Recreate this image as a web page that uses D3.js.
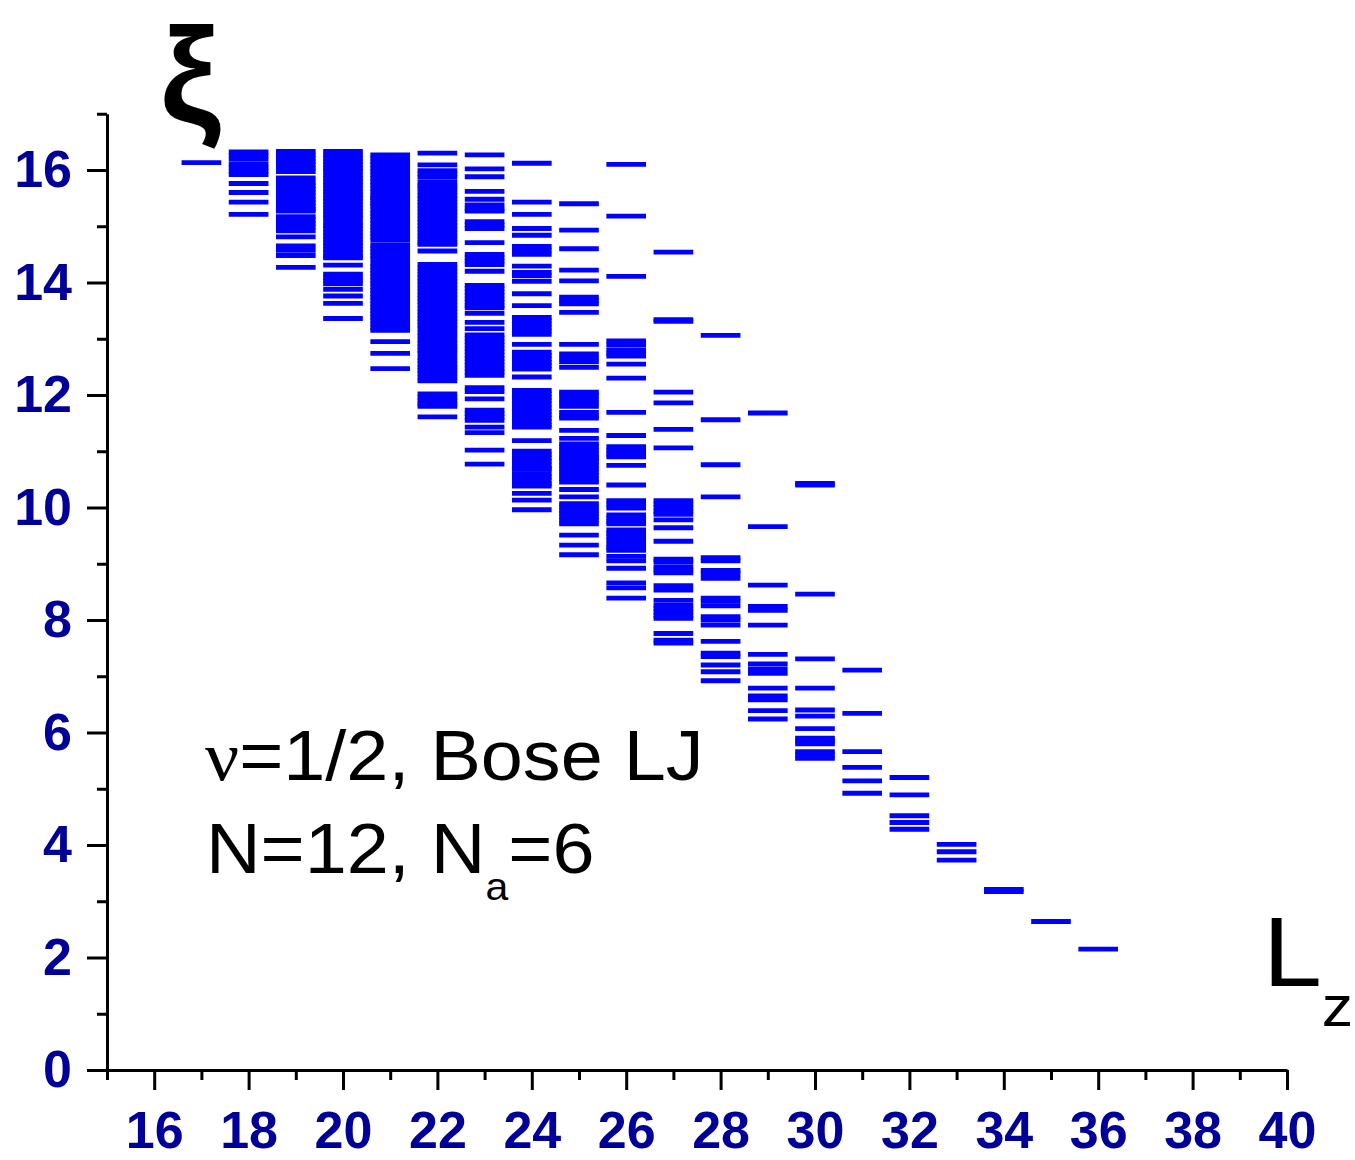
<!DOCTYPE html>
<html>
<head>
<meta charset="utf-8">
<script src="https://cdn.jsdelivr.net/npm/d3@7"></script>
<style>
body { margin: 0; background: #fff; }
svg text { font-family: "Liberation Sans", Arial, sans-serif; }
</style>
</head>
<body>
<div id="container"></div>
<script>
// entanglement levels xi for each Lz sector
const xi17 = [16.13];
const xi18 = [16.32, 16.26, 16.19, 16.10, 16.04, 15.98, 15.92, 15.76, 15.60, 15.43, 15.21];
const xi19 = [16.33, 16.27, 16.21, 16.15, 16.09, 16.03, 15.97, 15.86,
    15.78, 15.72, 15.66, 15.60, 15.54, 15.48, 15.42, 15.36, 15.30, 15.27,
    15.17, 15.11, 15.05, 14.99, 14.92, 14.81, 14.65, 14.57, 14.48, 14.27];
const xi20 = [16.33, 16.27, 16.21, 16.15, 16.09, 16.03, 15.98,
    15.91, 15.85, 15.79, 15.73, 15.67, 15.61,
    15.56, 15.50, 15.44, 15.38, 15.32, 15.26, 15.20, 15.15,
    15.07, 15.01, 14.96,
    14.89, 14.83, 14.77, 14.71, 14.65, 14.59, 14.53, 14.47, 14.44,
    14.31, 14.15, 14.09, 14.03, 13.98, 13.88, 13.76, 13.63, 13.36];
const xi21 = [16.27, 16.21, 16.15, 16.09, 16.03, 15.97, 15.91, 15.85, 15.79, 15.73, 15.67, 15.61, 15.55, 15.51,
    15.46, 15.40, 15.36,
    15.29, 15.23, 15.17, 15.11, 15.05, 14.99, 14.93, 14.87, 14.81, 14.75,
    14.66, 14.60, 14.54, 14.48, 14.42,
    14.34, 14.28, 14.22,
    14.16, 14.10, 14.04, 13.98, 13.92, 13.86, 13.80, 13.74, 13.68, 13.62, 13.56, 13.50,
    13.44, 13.38, 13.32, 13.26, 13.20, 13.15,
    12.95, 12.74, 12.47];
const xi22 = [16.30, 16.09, 15.99, 15.93, 15.87, 15.78, 15.72, 15.68,
    15.61, 15.55, 15.49, 15.43, 15.37, 15.31, 15.25, 15.19, 15.13,
    15.07, 15.01, 14.95, 14.89, 14.83, 14.77, 14.71, 14.68, 14.56,
    14.32, 14.26, 14.20, 14.14, 14.08, 14.02, 13.96, 13.90, 13.84, 13.78,
    13.72, 13.66, 13.60, 13.54, 13.48, 13.42, 13.36, 13.30, 13.24, 13.18,
    13.11, 13.05, 12.98, 12.92, 12.86, 12.80, 12.75,
    12.67, 12.61, 12.55, 12.49, 12.44, 12.38, 12.31, 12.25,
    12.02, 11.96, 11.90, 11.84, 11.80, 11.61];
const xi23 = [16.27, 16.02, 15.88, 15.62, 15.48, 15.38, 15.31, 15.27, 15.08, 15.02, 14.96,
    14.71, 14.50, 14.44, 14.38, 14.32, 14.20,
    13.95, 13.89, 13.83, 13.77, 13.71, 13.65, 13.59, 13.55, 13.45, 13.29, 13.18,
    13.07, 13.01, 12.95, 12.89, 12.83, 12.77, 12.71, 12.65, 12.59, 12.53, 12.47, 12.41, 12.35,
    12.13, 12.06, 11.93, 11.73, 11.67, 11.61, 11.55, 11.43, 11.33, 11.02, 10.77];
const xi24 = [16.12, 15.43, 15.21, 14.96, 14.84, 14.64, 14.57, 14.50, 14.29, 14.18, 14.12, 14.02, 13.80, 13.59,
    13.38, 13.32, 13.26, 13.20, 13.14, 13.08, 12.90,
    12.76, 12.70, 12.64, 12.58, 12.52, 12.46, 12.32,
    12.08, 12.02, 11.96, 11.90, 11.84, 11.77, 11.71, 11.65, 11.59, 11.53, 11.47, 11.43, 11.19,
    11.00, 10.94, 10.88, 10.82, 10.76, 10.70, 10.68,
    10.60, 10.54, 10.48, 10.42, 10.38, 10.25, 10.13, 9.96];
const xi25 = [15.40, 14.93, 14.60, 14.22, 14.03, 13.74, 13.68, 13.62, 13.47,
    12.90, 12.73, 12.66, 12.59, 12.49, 12.05, 12.00, 11.92, 11.86, 11.80,
    11.69, 11.63, 11.59, 11.37, 11.23, 11.13, 11.08, 11.02, 10.96, 10.90, 10.87,
    10.81, 10.75, 10.69, 10.63, 10.57, 10.51, 10.45, 10.32, 10.19,
    10.07, 10.01, 9.95, 9.89, 9.83, 9.77, 9.71, 9.51, 9.33, 9.16];
const xi26 = [16.10, 15.18, 14.11, 12.96, 12.89, 12.80, 12.74, 12.69, 12.55, 12.30,
    11.69, 11.28, 11.08, 11.01, 10.95, 10.90, 10.75, 10.40,
    10.12, 10.05, 9.99, 9.87, 9.81, 9.75, 9.71, 9.60, 9.54, 9.48, 9.42,
    9.35, 9.29, 9.24, 9.13, 9.05, 8.92, 8.66, 8.57, 8.39];
const xi27 = [14.54, 13.34, 13.31, 12.05, 11.86, 11.39, 11.06,
    10.12, 10.06, 10.00, 9.93, 9.88, 9.78, 9.64, 9.40, 9.08, 9.04, 8.95, 8.89, 8.84,
    8.61, 8.53, 8.35, 8.26, 8.20, 8.14, 8.08, 8.03, 7.76, 7.64, 7.59];
const xi28 = [13.06, 11.56, 10.76, 10.19, 9.11, 9.05, 8.88, 8.82, 8.74, 8.39, 8.33, 8.25,
    8.06, 8.00, 7.91, 7.62, 7.41, 7.35, 7.20, 7.08, 6.92];
const xi29 = [11.68, 9.66, 8.62, 8.24, 8.17, 7.91, 7.39, 7.22, 7.13, 7.05, 6.79, 6.65, 6.58, 6.39, 6.24];
const xi30 = [10.43, 10.40, 8.46, 7.31, 6.79, 6.40, 6.29, 6.07, 5.90, 5.85, 5.80, 5.66, 5.60, 5.54];
const xi31 = [7.11, 6.34, 5.66, 5.38, 5.14, 4.92];
const xi32 = [5.20, 4.89, 4.52, 4.40, 4.28];
const xi33 = [4.01, 3.88, 3.73];
const xi34 = [3.21, 3.17];
const xi35 = [2.64];
const xi36 = [2.15];

const lzSectors = [17, 18, 19, 20, 21, 22, 23, 24, 25, 26, 27, 28, 29, 30, 31, 32, 33, 34, 35, 36];
const xiBySector = [xi17, xi18, xi19, xi20, xi21, xi22, xi23, xi24, xi25, xi26,
    xi27, xi28, xi29, xi30, xi31, xi32, xi33, xi34, xi35, xi36];

const lzMajor = [16, 18, 20, 22, 24, 26, 28, 30, 32, 34, 36, 38, 40];
const lzMinor = [15, 17, 19, 21, 23, 25, 27, 29, 31, 33, 35, 37, 39];
const xiMajor = [0, 2, 4, 6, 8, 10, 12, 14, 16];
const xiMinor = [1, 3, 5, 7, 9, 11, 13, 15, 17];

document.addEventListener("DOMContentLoaded", () => {
    const w = 1355; // canvas width
    const h = 1160; // canvas height
    const half = 0.42; // half length of a level bar, in Lz units
    const labelColor = "#000099";

    const svg = d3.select("#container").append("svg").attr("width", w).attr("height", h);

    const xScale = d3.scaleLinear().domain([15, 40]).range([107, 1287]);
    const yScale = d3.scaleLinear().domain([0, 17]).range([1070, 113.75]);

    let levels = [];
    lzSectors.forEach((lz, i) => {
        xiBySector[i].forEach((v) => levels.push({ lz: lz, xi: v }));
    });

    svg.append("g").selectAll("line").data(levels).enter().append("line")
        .attr("x1", (d) => xScale(d.lz - half)).attr("x2", (d) => xScale(d.lz + half))
        .attr("y1", (d) => yScale(d.xi)).attr("y2", (d) => yScale(d.xi))
        .attr("stroke", "#0000ff").attr("stroke-width", 4.8);

    // x axis, major and minor ticks
    const xAxis = d3.axisBottom(xScale).tickValues(lzMajor).tickSize(20).tickSizeOuter(0).tickPadding(21).tickFormat(d3.format("d"));
    const gx = svg.append("g").attr("transform", `translate(0, ${yScale(0)})`).call(xAxis);
    const xMinor = d3.axisBottom(xScale).tickValues(lzMinor).tickSize(10).tickSizeOuter(0).tickFormat("");
    const gx2 = svg.append("g").attr("transform", `translate(0, ${yScale(0)})`).call(xMinor);
    gx2.select(".domain").remove();

    // y axis
    const yAxis = d3.axisLeft(yScale).tickValues(xiMajor).tickSize(20).tickSizeOuter(0).tickPadding(15).tickFormat(d3.format("d"));
    const gy = svg.append("g").attr("transform", `translate(${xScale(15)}, 0)`).call(yAxis);
    const yMinor = d3.axisLeft(yScale).tickValues(xiMinor).tickSize(10).tickSizeOuter(0).tickFormat("");
    const gy2 = svg.append("g").attr("transform", `translate(${xScale(15)}, 0)`).call(yMinor);
    gy2.select(".domain").remove();

    [gx, gx2, gy, gy2].forEach((g) => {
        g.selectAll("path, line").attr("stroke", "#000").attr("stroke-width", 3);
        g.selectAll("text").attr("fill", labelColor).attr("font-size", 52).attr("font-weight", "bold")
            .attr("font-family", "'Liberation Sans', Arial, sans-serif");
    });

    // axis titles
    svg.append("text").attr("x", 160).attr("y", 122).attr("font-size", 136).attr("font-weight", "bold")
        .attr("font-family", "'Liberation Serif', 'DejaVu Serif', serif").attr("fill", "#000").text("ξ");

    const lz = svg.append("text").attr("transform", "translate(1263, 986) scale(1.08, 1)")
        .attr("font-size", 98).attr("fill", "#000");
    lz.append("tspan").text("L");
    lz.append("tspan").attr("font-size", 58).attr("dy", 40).text("z");

    // annotation
    const t1 = svg.append("text").attr("transform", "translate(205, 780) scale(1.08, 1)")
        .attr("font-size", 70).attr("fill", "#000");
    t1.append("tspan").attr("font-family", "'Liberation Serif', serif").text("ν");
    t1.append("tspan").text("=1/2, Bose LJ");

    const t2 = svg.append("text").attr("transform", "translate(206, 873) scale(1.08, 1)")
        .attr("font-size", 70).attr("fill", "#000");
    t2.append("tspan").text("N=12, N");
    t2.append("tspan").attr("font-size", 38).attr("dy", 27).text("a");
    t2.append("tspan").attr("dy", -27).text("=6");
});
</script>
</body>
</html>
